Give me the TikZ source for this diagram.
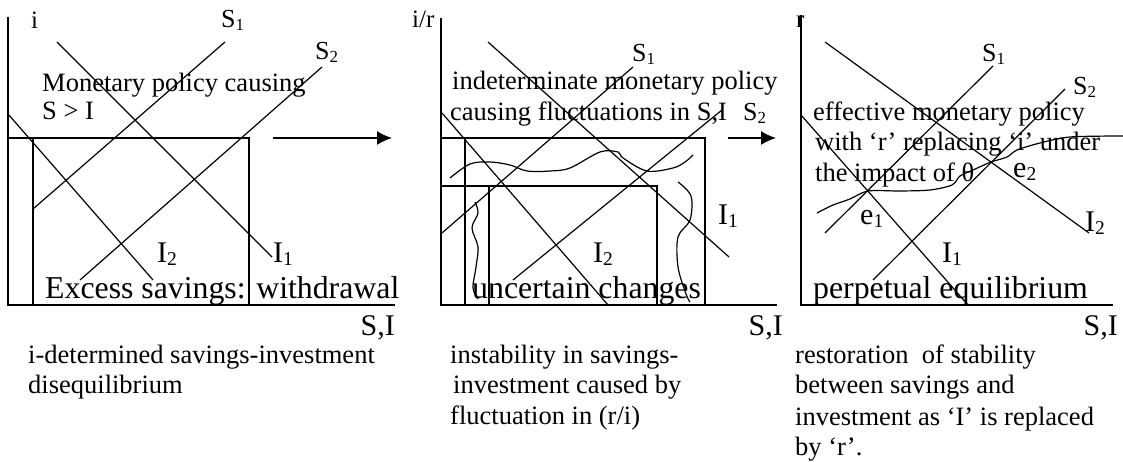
\documentclass[tikz,border=0pt]{standalone}
\usepackage{fontspec}
\usepackage{graphicx}
\setmainfont{Liberation Serif}
\usetikzlibrary{arrows.meta}
\newcommand{\sbs}[1]{\raisebox{-0.1em}{\scalebox{0.65}{#1}}}
\begin{document}
\begin{tikzpicture}[x=1pt,y=-1pt,
  axis/.style={line width=1.6pt},
  ln/.style={line width=1.2pt},
  wig/.style={line width=1.2pt},
  arr/.style={line width=1.6pt,-{Latex[length=15pt,width=14pt]}},
  big/.style={font=\fontsize{31.8}{34}\selectfont, inner sep=0pt, anchor=base west},
  mid/.style={font=\fontsize{26.5}{29}\selectfont, inner sep=0pt, anchor=base west},
  captxt/.style={font=\fontsize{26.5}{30}\selectfont, inner sep=0pt, anchor=base west},
  lbl/.style={font=\fontsize{30}{32}\selectfont, inner sep=0pt, anchor=base west},
  slbl/.style={font=\fontsize{26}{28}\selectfont, inner sep=0pt, anchor=base west},
  axl/.style={font=\fontsize{25}{27}\selectfont, inner sep=0pt, anchor=base west},
  sil/.style={font=\fontsize{30}{32}\selectfont, inner sep=0pt, anchor=base east}
]
\useasboundingbox (0,0) rectangle (1123,462);

% ---------------- Panel 1 ----------------
\draw[axis] (8,17) -- (8,305) -- (395,305);
\draw[axis] (8,138) -- (249,138) -- (249,305);
\draw[axis] (33,138) -- (33,305);
\draw[ln] (33,209) -- (225,42);   % S1
\draw[ln] (80,280) -- (322,67);   % S2
\draw[ln] (57,42) -- (272,257);   % I1
\draw[ln] (8,114) -- (153,280);   % I2

\node[axl] (p1i) at (31,29) {i};
\node[slbl] (p1s1) at (221,28) {S\sbs{1}};
\node[slbl] (p1s2) at (315,60) {S\sbs{2}};
\node[mid] (p1t1) at (42,92) {Monetary policy causing};
\node[mid] (p1t2) at (42,120) {S > I};
\node[lbl] (p1i2) at (157,262) {I\sbs{2}};
\node[lbl] (p1i1) at (273,262) {I\sbs{1}};
\node[big] (p1ex) at (45,298) {Excess savings: withdrawal};
\node[sil] (p1si) at (395,335) {S,I};
\node[captxt] (p1c1) at (28,363) {i-determined savings-investment};
\node[captxt] (p1c2) at (28,393) {disequilibrium};

\coordinate (a1s) at (273,138);
\coordinate (a1e) at (392,138);
\draw[arr] (a1s) -- (a1e);

% ---------------- Panel 2 ----------------
\draw[axis] (441,18) -- (441,305) -- (777,305);
\draw[axis] (441,138) -- (705,138) -- (705,305);
\draw[axis] (465,138) -- (465,305);
\draw[axis] (441,186) -- (657,186) -- (657,305);
\draw[axis] (489,186) -- (489,305);
\draw[ln] (442,233) -- (633,67);  % S1
\draw[ln] (513,280) -- (722,110); % S2
\draw[ln] (488,42) -- (729,257);  % I1
\draw[ln] (442,113) -- (608,305); % I2

\draw[wig] plot[smooth,tension=0.55] coordinates {(450,178) (470,164) (490,162) (510,165) (527,171) (550,171) (570,168) (600,152) (618,152) (623,158) (647,171) (673,168) (685,162) (693,155)};
\draw[wig] plot[smooth,tension=0.55] coordinates {(475,202) (478,213) (472,228) (478,247) (476,267) (473,288) (478,299)};
\draw[wig] plot[smooth,tension=0.55] coordinates {(678,182) (691,196) (690,220) (678,237) (678,267) (686,294) (690,302)};

\node[axl] (p2ir) at (412,28) {i/r};
\node[slbl] (p2s1) at (632,62) {S\sbs{1}};
\node[mid] (p2t1) at (452,90) {indeterminate monetary policy};
\node[mid] (p2t2) at (450,121) {causing fluctuations in S,I};
\node[slbl] (p2s2) at (743,121) {S\sbs{2}};
\node[lbl] (p2i1) at (718,225) {I\sbs{1}};
\node[lbl] (p2i2) at (593,262) {I\sbs{2}};
\node[big] (p2uc) at (472,298) {uncertain changes};
\node[sil] (p2si) at (783,335) {S,I};
\node[captxt] (p2c1) at (450,363) {instability in savings-};
\node[captxt] (p2c2) at (453,393) {investment caused by};
\node[captxt] (p2c3) at (450,424) {fluctuation in (r/i)};

\coordinate (a2s) at (728,138);
\coordinate (a2e) at (776,138);
\draw[arr] (a2s) -- (a2e);

% ---------------- Panel 3 ----------------
\draw[axis] (801,15) -- (801,305) -- (1113,305);
\draw[ln] (801,115) -- (968,305);  % I1
\draw[ln] (825,42) -- (1089,233);  % I2
\draw[ln] (825,233) -- (993,66);   % S1
\draw[ln] (873,280) -- (1065,89);  % S2

\draw[wig] plot[smooth,tension=0.5] coordinates {(817,213) (833,205) (850,199) (868,191) (900,191) (930,190) (952,185) (960,176) (973,170) (991,162) (1007,157) (1017,150) (1040,143) (1070,137) (1123,136)};

\node[axl] (p3r) at (796,28) {r};
\node[slbl] (p3s1) at (982,62) {S\sbs{1}};
\node[slbl] (p3s2) at (1073,95) {S\sbs{2}};
\node[mid] (p3t1) at (813,121) {effective monetary policy};
\node[mid] (p3t2) at (815,151) {with ‘r’ replacing ‘i’ under};
\node[mid] (p3t3) at (815,182) {the impact of θ};
\node[lbl] (p3e2) at (1013,178) {e\sbs{2}};
\node[lbl] (p3e1) at (860,225) {e\sbs{1}};
\node[lbl] (p3i2) at (1085,232) {I\sbs{2}};
\node[lbl] (p3i1) at (942,262) {I\sbs{1}};
\node[big] (p3pe) at (813,298) {perpetual equilibrium};
\node[sil] (p3si) at (1118,335) {S,I};
\node[captxt] (p3c1) at (795,363) {restoration~ of stability};
\node[captxt] (p3c2) at (795,393) {between savings and};
\node[captxt] (p3c3) at (795,425) {investment as ‘I’ is replaced};
\node[captxt] (p3c4) at (795,455) {by ‘r’.};
\end{tikzpicture}
\end{document}
